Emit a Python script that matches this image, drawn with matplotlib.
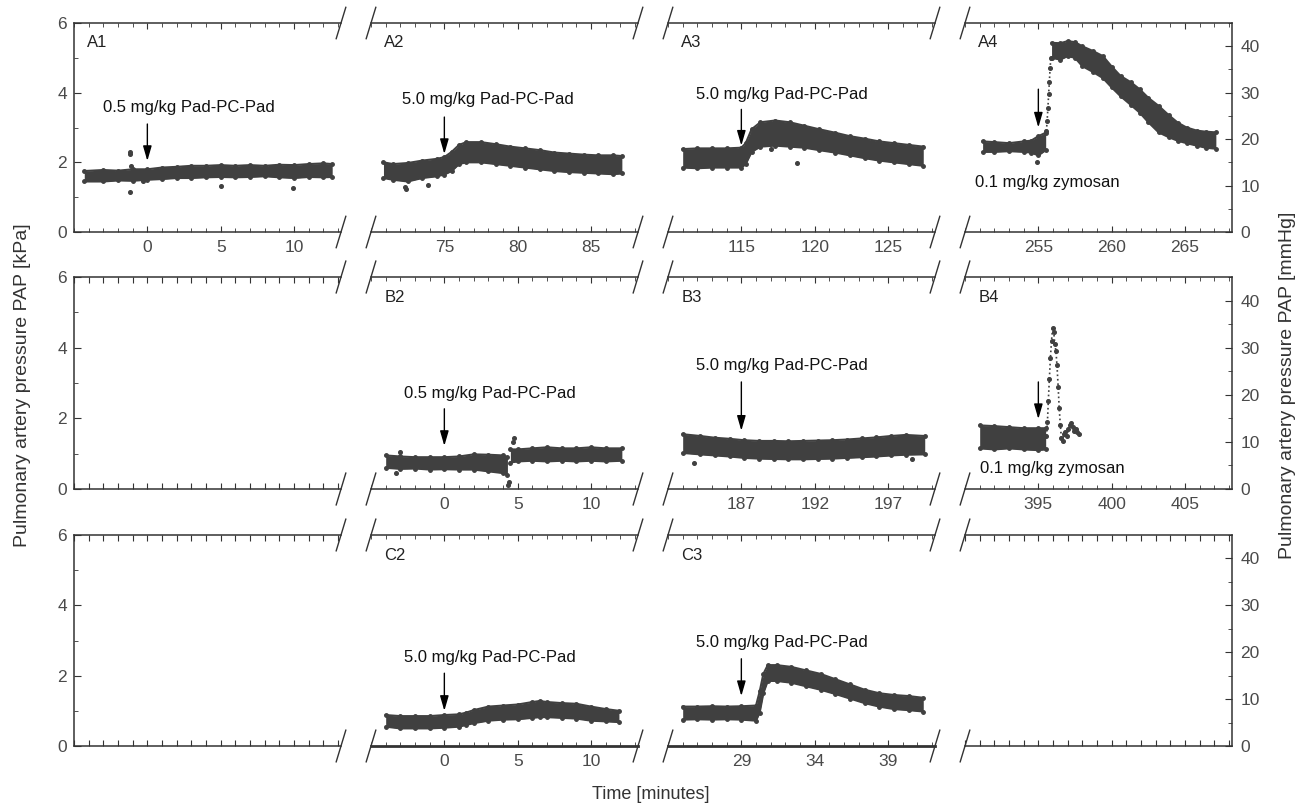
import matplotlib.pyplot as plt
from matplotlib.ticker import MultipleLocator, FixedLocator

plt.rcParams['font.family'] = ['Liberation Sans', 'DejaVu Sans']

DOT = '#404040'
AX = '#333333'
TXT = '#4a4a4a'

# panel grid: name and first labelled tick (minutes), None = empty panel
names = [["A1", "A2", "A3", "A4"],
         ["", "B2", "B3", "B4"],
         ["", "C2", "C3", ""]]
first_tick = [[0, 75, 115, 255],
              [None, 0, 187, 395],
              [None, 0, 29, None]]

# ---- data (kPa) ----
a1_t = [-4.3, -3, -2, -1, 0, 1, 2, 3, 4, 5, 6, 7, 8, 9, 10, 11, 12, 12.6]
a1_lo = [1.45, 1.45, 1.48, 1.47, 1.5, 1.52, 1.55, 1.55, 1.57, 1.58, 1.57, 1.58, 1.6, 1.57, 1.55, 1.58, 1.57, 1.58]
a1_hi = [1.75, 1.78, 1.76, 1.8, 1.8, 1.85, 1.87, 1.9, 1.9, 1.92, 1.9, 1.92, 1.9, 1.93, 1.92, 1.95, 1.97, 1.95]
a1_out_t = [-1.15, -1.15, -1.1, -1.15, 5.0, 9.9, -0.3]
a1_out_y = [2.25, 2.3, 1.9, 1.16, 1.33, 1.26, 1.45]

a2_t = [70.85, 71.5, 72.5, 73.5, 74.5, 75.0, 75.5, 76.0, 76.5, 77.5, 78.5, 79.5, 80.5, 81.5, 82.5, 83.5, 84.5, 85.5, 86.5, 87.1]
a2_lo = [1.55, 1.5, 1.45, 1.55, 1.6, 1.65, 1.75, 1.95, 2.0, 2.0, 1.95, 1.9, 1.85, 1.8, 1.75, 1.72, 1.7, 1.68, 1.66, 1.68]
a2_hi = [2.0, 1.95, 1.98, 2.05, 2.1, 2.15, 2.3, 2.5, 2.58, 2.58, 2.52, 2.45, 2.4, 2.35, 2.28, 2.25, 2.22, 2.2, 2.2, 2.18]
a2_out_t = [72.4, 72.3, 73.9]
a2_out_y = [1.24, 1.3, 1.35]

a3_t = [111.0, 112, 113, 114, 115.0, 115.3, 115.7, 116.3, 117.3, 118.3, 119.3, 120.3, 121.4, 122.4, 123.4, 124.4, 125.4, 126.4, 127.4]
a3_lo = [1.85, 1.83, 1.85, 1.85, 1.85, 1.95, 2.3, 2.45, 2.48, 2.45, 2.42, 2.35, 2.28, 2.2, 2.12, 2.05, 2.0, 1.95, 1.9]
a3_hi = [2.38, 2.4, 2.4, 2.4, 2.42, 2.55, 2.95, 3.15, 3.2, 3.15, 3.05, 2.95, 2.85, 2.75, 2.68, 2.6, 2.55, 2.5, 2.45]
a3_out_t = [118.8, 117.0]
a3_out_y = [1.98, 2.39]

a4_pre_t = [251.2, 252, 253, 254, 254.5, 255.0, 255.5]
a4_pre_lo = [2.3, 2.3, 2.32, 2.3, 2.28, 2.2, 2.35]
a4_pre_hi = [2.6, 2.58, 2.55, 2.6, 2.62, 2.75, 2.85]
a4_rise_t = [255.55, 255.6, 255.65, 255.7, 255.75, 255.8, 255.85]
a4_rise_y = [2.9, 3.2, 3.55, 3.95, 4.3, 4.7, 5.0]
a4_t = [255.9, 256.5, 257.0, 257.5, 258.0, 258.7, 259.4, 260.0, 260.6, 261.3, 261.9, 262.5, 263.2, 263.9, 264.5, 265.1, 265.8, 266.4, 267.1]
a4_lo = [5.0, 4.95, 5.05, 5.0, 4.76, 4.6, 4.42, 4.15, 3.9, 3.65, 3.43, 3.15, 2.86, 2.72, 2.62, 2.55, 2.48, 2.42, 2.39]
a4_hi = [5.43, 5.42, 5.48, 5.45, 5.33, 5.2, 5.05, 4.75, 4.48, 4.3, 4.1, 3.85, 3.62, 3.35, 3.14, 3.0, 2.91, 2.88, 2.86]
a4_out_t = [254.9]
a4_out_y = [2.0]

b2_pre_t = [-4.0, -3, -2, -1, 0, 1, 2, 3, 4, 4.3]
b2_pre_lo = [0.6, 0.57, 0.58, 0.55, 0.56, 0.55, 0.55, 0.5, 0.45, 0.4]
b2_pre_hi = [0.95, 0.92, 0.9, 0.9, 0.9, 0.92, 0.98, 0.97, 0.95, 0.9]
b2_t = [4.5, 5, 6, 7, 8, 9, 10, 11, 12.1]
b2_lo = [0.75, 0.78, 0.8, 0.78, 0.8, 0.78, 0.8, 0.78, 0.8]
b2_hi = [1.12, 1.12, 1.15, 1.18, 1.15, 1.15, 1.18, 1.15, 1.15]
b2_out_t = [4.35, 4.4, 4.75, 4.7, -3.3, -3.0]
b2_out_y = [0.1, 0.2, 1.43, 1.32, 0.45, 1.05]

b3_t = [183.0, 184.2, 185.2, 186.2, 187.2, 188.2, 189.2, 190.2, 191.2, 192.2, 193.2, 194.2, 195.2, 196.2, 197.2, 198.2, 199.5]
b3_lo = [1.02, 0.98, 0.95, 0.92, 0.88, 0.86, 0.85, 0.84, 0.84, 0.85, 0.86, 0.88, 0.9, 0.92, 0.95, 0.97, 0.98]
b3_hi = [1.55, 1.5, 1.45, 1.42, 1.38, 1.36, 1.36, 1.35, 1.36, 1.37, 1.38, 1.4, 1.43, 1.46, 1.5, 1.53, 1.5]
b3_out_t = [183.8, 198.6]
b3_out_y = [0.74, 0.84]

b4_pre_t = [391.0, 392, 393, 394, 395, 395.5]
b4_pre_lo = [1.15, 1.12, 1.15, 1.12, 1.1, 1.12]
b4_pre_hi = [1.8, 1.78, 1.75, 1.72, 1.72, 1.72]
b4_tr_t = [395.55, 395.62, 395.68, 395.75, 395.82, 395.9, 395.97, 396.05, 396.12, 396.2, 396.27,
           396.35, 396.42, 396.5, 396.57, 396.65, 396.75, 396.85, 396.95, 397.05, 397.15, 397.25,
           397.35, 397.45, 397.55, 397.65, 397.8]
b4_tr_y = [1.5, 1.9, 2.5, 3.1, 3.7, 4.2, 4.55, 4.45, 4.1, 3.9, 3.5,
           2.9, 2.3, 1.8, 1.45, 1.35, 1.55, 1.6, 1.5, 1.7, 1.8, 1.87,
           1.75, 1.65, 1.7, 1.6, 1.55]

c2_t = [-4.0, -3, -2, -1, 0, 1, 1.5, 2, 3, 4, 5, 6, 6.5, 7, 8, 9, 10, 11, 11.9]
c2_lo = [0.55, 0.5, 0.5, 0.5, 0.52, 0.55, 0.6, 0.65, 0.72, 0.75, 0.76, 0.8, 0.82, 0.82, 0.8, 0.78, 0.72, 0.7, 0.68]
c2_hi = [0.88, 0.85, 0.85, 0.85, 0.88, 0.9, 0.95, 1.02, 1.12, 1.15, 1.18, 1.25, 1.28, 1.25, 1.22, 1.2, 1.12, 1.05, 1.0]

c3_t = [25.0, 26, 27, 28, 29, 30.0, 30.25, 30.5, 30.8, 31.4, 32.4, 33.4, 34.4, 35.4, 36.4, 37.4, 38.4, 39.4, 40.4, 41.4]
c3_lo = [0.75, 0.76, 0.75, 0.76, 0.75, 0.72, 0.95, 1.5, 1.85, 1.85, 1.8, 1.7, 1.6, 1.48, 1.35, 1.22, 1.12, 1.05, 1.02, 0.98]
c3_hi = [1.12, 1.12, 1.13, 1.12, 1.13, 1.15, 1.55, 2.05, 2.3, 2.3, 2.25, 2.15, 2.05, 1.9, 1.75, 1.6, 1.5, 1.45, 1.42, 1.37]

bands = {
    "A1": [(a1_t, a1_lo, a1_hi)],
    "A2": [(a2_t, a2_lo, a2_hi)],
    "A3": [(a3_t, a3_lo, a3_hi)],
    "A4": [(a4_pre_t, a4_pre_lo, a4_pre_hi), (a4_t, a4_lo, a4_hi)],
    "B2": [(b2_pre_t, b2_pre_lo, b2_pre_hi), (b2_t, b2_lo, b2_hi)],
    "B3": [(b3_t, b3_lo, b3_hi)],
    "B4": [(b4_pre_t, b4_pre_lo, b4_pre_hi)],
    "C2": [(c2_t, c2_lo, c2_hi)],
    "C3": [(c3_t, c3_lo, c3_hi)],
}
traces = {"A4": (a4_rise_t, a4_rise_y), "B4": (b4_tr_t, b4_tr_y)}
outliers = {"A1": (a1_out_t, a1_out_y), "A2": (a2_out_t, a2_out_y), "A3": (a3_out_t, a3_out_y),
            "A4": (a4_out_t, a4_out_y), "B2": (b2_out_t, b2_out_y), "B3": (b3_out_t, b3_out_y)}

# annotations: text, arrow x, arrow tail y, arrow tip y, text x, text y
notes = {
    "A1": ("0.5 mg/kg Pad-PC-Pad", 0, 3.1, 2.04, -3.0, 3.56),
    "A2": ("5.0 mg/kg Pad-PC-Pad", 75, 3.3, 2.24, 72.1, 3.79),
    "A3": ("5.0 mg/kg Pad-PC-Pad", 115, 3.52, 2.48, 111.9, 3.95),
    "A4": ("0.1 mg/kg zymosan", 255, 4.1, 3.0, 250.7, 1.42),
    "B2": ("0.5 mg/kg Pad-PC-Pad", 0, 2.27, 1.22, -2.75, 2.7),
    "B3": ("5.0 mg/kg Pad-PC-Pad", 187, 3.03, 1.65, 183.9, 3.5),
    "B4": ("0.1 mg/kg zymosan", 395, 3.03, 1.98, 391.0, 0.58),
    "C2": ("5.0 mg/kg Pad-PC-Pad", 0, 2.07, 1.0, -2.77, 2.52),
    "C3": ("5.0 mg/kg Pad-PC-Pad", 29, 2.48, 1.42, 25.9, 2.95),
}

W, H = 1301, 806
col_left = [74, 371, 668, 965]
col_w = 267
row_top = [23, 277, 535]
row_bot = [232, 489, 746]

fig = plt.figure(figsize=(W / 100, H / 100), dpi=100)


def brk(ax, x):
    for y in (0, 1):
        ax.plot([x - 0.018, x + 0.018], [y - 0.075, y + 0.075], transform=ax.transAxes,
                clip_on=False, color=AX, lw=1)


for r in range(3):
    for c in range(4):
        rect = [col_left[c] / W, 1 - row_bot[r] / H, col_w / W, (row_bot[r] - row_top[r]) / H]
        ax = fig.add_axes(rect)
        name = names[r][c]
        t0 = first_tick[r][c]
        ax.set_ylim(0, 6)
        for s in ax.spines.values():
            s.set_color(AX)
            s.set_linewidth(1.1)
        ax.spines['left'].set_visible(c == 0)
        ax.spines['right'].set_visible(False)
        if r == 2 and c in (1, 2):
            ax.spines['bottom'].set_linewidth(2)

        if t0 is None:
            ax.set_xlim(0, 18.2)
            ax.xaxis.set_major_locator(MultipleLocator(1))
            ax.tick_params(axis='x', labelbottom=False)
        else:
            ax.set_xlim(t0 - 5, t0 + 13.2)
            ax.xaxis.set_major_locator(FixedLocator([t0, t0 + 5, t0 + 10]))
            ax.xaxis.set_minor_locator(MultipleLocator(1))
        ax.tick_params(axis='x', which='both', direction='in', top=True, bottom=True,
                       colors=AX, labelcolor=TXT, labelsize=12.5, pad=6)
        ax.tick_params(axis='x', which='major', length=4.5)
        ax.tick_params(axis='x', which='minor', length=3)

        if c == 0:
            ax.set_yticks([0, 2, 4, 6])
            ax.yaxis.set_minor_locator(MultipleLocator(1))
            ax.tick_params(axis='y', which='both', direction='in', colors=AX,
                           labelcolor=TXT, labelsize=12.5, pad=5)
            ax.tick_params(axis='y', which='major', length=5)
            ax.tick_params(axis='y', which='minor', length=3)
        else:
            ax.tick_params(axis='y', which='both', left=False, labelleft=False)
        if c == 3:
            sec = ax.secondary_yaxis('right', functions=(lambda k: k * 7.5, lambda m: m / 7.5))
            sec.set_yticks([0, 10, 20, 30, 40])
            sec.yaxis.set_minor_locator(MultipleLocator(5))
            sec.spines['right'].set_color(AX)
            sec.spines['right'].set_linewidth(1.1)
            sec.tick_params(which='both', direction='in', colors=AX, labelcolor=TXT,
                            labelsize=12.5, pad=6)
            sec.tick_params(which='major', length=5)
            sec.tick_params(which='minor', length=3)

        if c < 3:
            brk(ax, 1)
        if c > 0:
            brk(ax, 0)

        if name:
            ax.text(0.05, 0.905, name, transform=ax.transAxes, fontsize=12,
                    color='#222222', va='center')
        for t, lo, hi in bands.get(name, []):
            ax.fill_between(t, lo, hi, color=DOT, lw=0)
            ax.plot(t, lo, '-o', color=DOT, lw=1.5, ms=2.5)
            ax.plot(t, hi, '-o', color=DOT, lw=1.5, ms=2.5)
        if name in traces:
            tt, ty = traces[name]
            ax.plot(tt, ty, ':o', color=DOT, lw=1.2, ms=2.6)
        if name in outliers:
            ot, oy = outliers[name]
            ax.plot(ot, oy, 'o', color=DOT, ms=2.6, lw=0)
        if name in notes:
            txt, xa, y0, y1, xt, yt = notes[name]
            ax.annotate('', xy=(xa, y1), xytext=(xa, y0),
                        arrowprops=dict(arrowstyle='-|>,head_length=0.45,head_width=0.13',
                                        mutation_scale=20, color='black', lw=1,
                                        shrinkA=0, shrinkB=0))
            ax.text(xt, yt, txt, fontsize=12, color='#111111', ha='left', va='center')

fig.text(0.017, 0.522, 'Pulmonary artery pressure PAP [kPa]', rotation=90,
         ha='center', va='center', fontsize=14, color='#333333')
fig.text(0.99, 0.522, 'Pulmonary artery pressure PAP [mmHg]', rotation=90,
         ha='center', va='center', fontsize=14, color='#333333')
fig.text(0.5, 0.014, 'Time [minutes]', ha='center', va='center', fontsize=13, color='#333333')

fig.savefig('out.png', dpi=100)
